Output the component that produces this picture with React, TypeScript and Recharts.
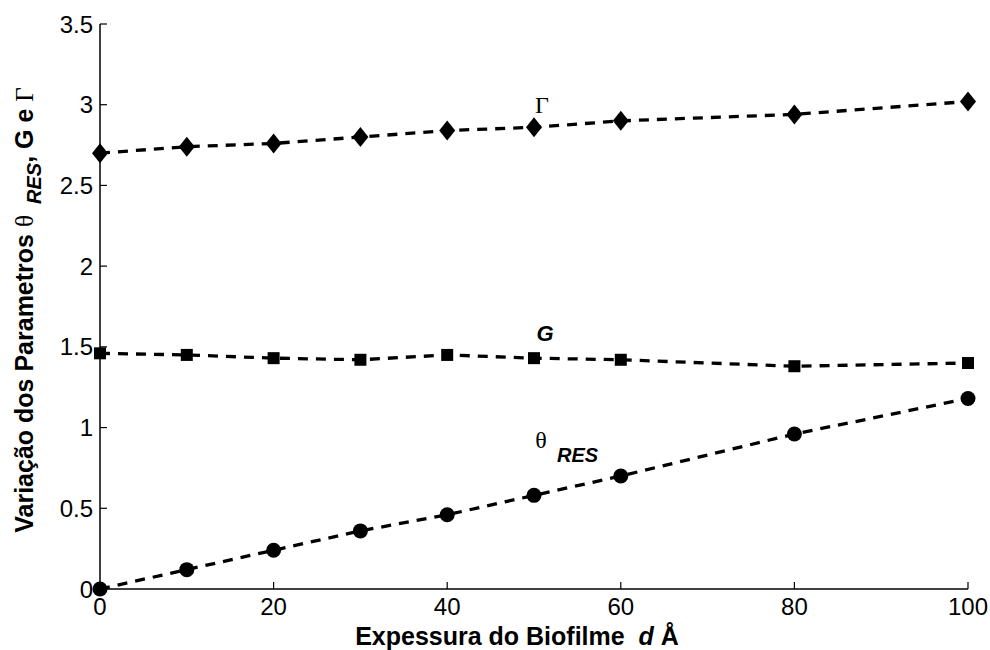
import { LineChart, Line, XAxis, YAxis, Customized } from 'recharts';

// espessura do biofilme (Å)
const thickness = [0, 10, 20, 30, 40, 50, 60, 80, 100];
const gammaValues = [2.7, 2.74, 2.76, 2.8, 2.84, 2.86, 2.9, 2.94, 3.02];
const gValues = [1.46, 1.45, 1.43, 1.42, 1.45, 1.43, 1.42, 1.38, 1.4];
const thetaValues = [0, 0.12, 0.24, 0.36, 0.46, 0.58, 0.7, 0.96, 1.18];

const xTicks = [0, 20, 40, 60, 80, 100];
const yTicks = [0, 0.5, 1, 1.5, 2, 2.5, 3, 3.5];

const data = thickness.map((d, i) => ({
  d,
  gamma: gammaValues[i],
  g: gValues[i],
  theta: thetaValues[i],
}));

const SANS = 'Arial, "Liberation Sans", sans-serif';
const SERIF = '"Times New Roman", "Liberation Serif", serif';
const TICK_FONT = 24;
const TICK_LEN = 7;
const GAP = 7;

const Diamond = (props: any) => {
  const { cx, cy } = props;
  if (cx == null || cy == null) return null;
  return <path d={`M${cx},${cy - 10} L${cx + 8},${cy} L${cx},${cy + 10} L${cx - 8},${cy} Z`} fill="#000" />;
};

const Square = (props: any) => {
  const { cx, cy } = props;
  if (cx == null || cy == null) return null;
  return <rect x={cx - 6} y={cy - 6} width={12} height={12} fill="#000" />;
};

const Circle = (props: any) => {
  const { cx, cy } = props;
  if (cx == null || cy == null) return null;
  return <circle cx={cx} cy={cy} r={7.5} fill="#000" />;
};

const LeftTick = ({ x, y, payload }: any) => (
  <g>
    <line x1={x + GAP} x2={x + GAP + TICK_LEN} y1={y} y2={y} stroke="#000" strokeWidth={1.2} />
    <text x={x} y={y} dy="0.36em" textAnchor="end" fontFamily={SANS} fontSize={TICK_FONT} fill="#000">
      {payload.value}
    </text>
  </g>
);

const RightTick = ({ x, y }: any) => (
  <line x1={x - GAP} x2={x - GAP - TICK_LEN} y1={y} y2={y} stroke="#000" strokeWidth={1.2} />
);

const BottomTick = ({ x, y, payload }: any) => (
  <g>
    <line x1={x} x2={x} y1={y - GAP} y2={y - GAP - TICK_LEN} stroke="#000" strokeWidth={1.2} />
    <text x={x} y={y} dy="0.8em" textAnchor="middle" fontFamily={SANS} fontSize={TICK_FONT} fill="#000">
      {payload.value}
    </text>
  </g>
);

const TopTick = ({ x, y }: any) => (
  <line x1={x} x2={x} y1={y + GAP} y2={y + GAP + TICK_LEN} stroke="#000" strokeWidth={1.2} />
);

const Annotations = () => (
  <g fill="#000">
    {/* titulo do eixo y */}
    <text
      transform="rotate(-90)"
      x={-310}
      y={33}
      textAnchor="middle"
      fontFamily={SANS}
      fontSize={25}
      fontWeight="bold"
      xmlSpace="preserve"
    >
      {'Variação dos Parametros '}
      <tspan fontFamily={SERIF} fontWeight="normal">θ</tspan>
      <tspan dy={8} fontSize={20} fontStyle="italic">{'  RES'}</tspan>
      <tspan dy={-8}>{', G e '}</tspan>
      <tspan fontFamily={SERIF} fontWeight="normal">Γ</tspan>
    </text>
    {/* titulo do eixo x */}
    <text x={517} y={645} textAnchor="middle" fontFamily={SANS} fontSize={25} fontWeight="bold" xmlSpace="preserve">
      {'Expessura do Biofilme  '}
      <tspan fontStyle="italic">d</tspan>
      {' Å'}
    </text>
    {/* rotulos das curvas */}
    <text x={542} y={113} textAnchor="middle" fontFamily={SERIF} fontSize={24}>Γ</text>
    <text x={545} y={341} textAnchor="middle" fontFamily={SANS} fontSize={22} fontWeight="bold" fontStyle="italic">G</text>
    <text x={541} y={448} textAnchor="middle" fontFamily={SERIF} fontSize={24}>θ</text>
    <text x={557} y={462} fontFamily={SANS} fontSize={20} fontWeight="bold" fontStyle="italic">RES</text>
  </g>
);

export default function App() {
  return (
    <div style={{ position: 'absolute', left: 0, top: 0, width: 990, height: 650, background: '#fff' }}>
      <LineChart width={990} height={650} data={data} margin={{ top: 24, right: 22, bottom: 0, left: 0 }}>
        <XAxis
          dataKey="d"
          type="number"
          domain={[0, 100]}
          ticks={xTicks}
          height={61}
          tickSize={0}
          tickMargin={GAP}
          tick={<BottomTick />}
          axisLine={{ stroke: '#000', strokeWidth: 1.5 }}
          tickLine={false}
          interval={0}
        />
        <XAxis
          xAxisId="top"
          orientation="top"
          type="number"
          domain={[0, 100]}
          ticks={xTicks}
          height={0}
          tickSize={0}
          tickMargin={GAP}
          tick={<TopTick />}
          axisLine={{ stroke: '#000', strokeWidth: 1.5 }}
          tickLine={false}
          interval={0}
        />
        <YAxis
          type="number"
          domain={[0, 3.5]}
          ticks={yTicks}
          width={100}
          tickSize={0}
          tickMargin={GAP}
          tick={<LeftTick />}
          axisLine={{ stroke: '#000', strokeWidth: 1.5 }}
          tickLine={false}
          interval={0}
        />
        <YAxis
          yAxisId="right"
          orientation="right"
          type="number"
          domain={[0, 3.5]}
          ticks={yTicks}
          width={0}
          tickSize={0}
          tickMargin={GAP}
          tick={<RightTick />}
          axisLine={{ stroke: '#000', strokeWidth: 1.5 }}
          tickLine={false}
          interval={0}
        />
        <Line dataKey="gamma" stroke="#000" strokeWidth={3.3} strokeDasharray="10 8" dot={<Diamond />} activeDot={false} isAnimationActive={false} />
        <Line dataKey="g" stroke="#000" strokeWidth={3.3} strokeDasharray="10 8" dot={<Square />} activeDot={false} isAnimationActive={false} />
        <Line dataKey="theta" stroke="#000" strokeWidth={3.3} strokeDasharray="10 8" dot={<Circle />} activeDot={false} isAnimationActive={false} />
        <Customized component={Annotations} />
      </LineChart>
    </div>
  );
}
